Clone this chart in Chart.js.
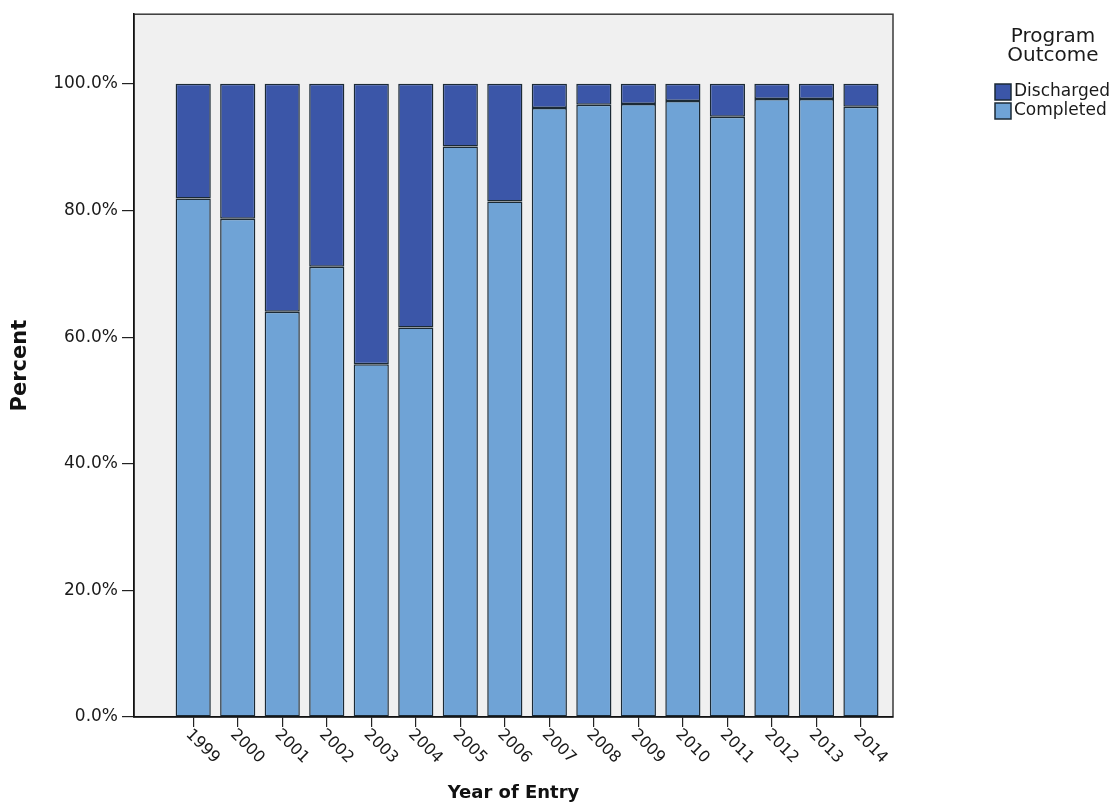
<!DOCTYPE html>
<html lang="en">
<head>
    <meta charset="UTF-8">
    <title>Program Outcome by Year of Entry</title>
    <script src="https://cdn.jsdelivr.net/npm/chart.js"></script>
    <style>
        html, body { margin: 0; padding: 0; background: #fff; }
        #wrap { width: 1119px; height: 808px; }
    </style>
</head>
<body>
    <div id="wrap">
        <canvas id="grafico1"></canvas>
    </div>

    <script>
        const ctx = document.getElementById('grafico1');

        // data
        let anos = [1999,2000,2001,2002,2003,2004,2005,2006,2007,2008,2009,2010,2011,2012,2013,2014]
        let completed  = [81.9,78.7,64.0,71.1,55.7,61.5,90.1,81.4,96.2,96.7,96.8,97.3,94.8,97.6,97.6,96.4]
        let discharged = [18.1,21.3,36.0,28.9,44.3,38.5,9.9,18.6,3.8,3.3,3.2,2.7,5.2,2.4,2.4,3.6]
        let yTicks = [0,20,40,60,80,100]

        const corCompleted = '#6fa3d6'
        const corDischarged = '#3b56a8'
        const corBorda = '#1b2a36'
        const fonte = '"DejaVu Sans", sans-serif'

        // background of plot area + frame
        const fundo = {
          id: 'fundo',
          beforeDraw(chart) {
            const a = chart.chartArea, c = chart.ctx
            c.save()
            c.fillStyle = '#f0f0f0'
            c.fillRect(a.left, a.top, a.right - a.left, a.bottom - a.top)
            c.strokeStyle = '#3a3a3a'
            c.lineWidth = 1.5
            c.strokeRect(a.left, a.top, a.right - a.left, a.bottom - a.top)
            c.restore()
          }
        }

        // rotated year labels + legend
        const extras = {
          id: 'extras',
          afterDraw(chart) {
            const c = chart.ctx, xs = chart.scales.x, a = chart.chartArea
            c.save()
            c.fillStyle = '#1a1a1a'
            c.font = '16px ' + fonte
            c.textAlign = 'left'
            c.textBaseline = 'middle'
            anos.forEach(ano => {
              const px = xs.getPixelForValue(ano)
              c.save()
              c.translate(px - 5, a.bottom + 15)
              c.rotate(Math.PI / 4)
              c.fillText(String(ano), 0, 0)
              c.restore()
            })

            // legend
            c.textAlign = 'center'
            c.font = '20px ' + fonte
            c.fillStyle = '#1a1a1a'
            c.fillText('Program', 1053, 37)
            c.fillText('Outcome', 1053, 56)
            const itens = [['Discharged', corDischarged], ['Completed', corCompleted]]
            c.font = '17px ' + fonte
            c.textAlign = 'left'
            itens.forEach((it, i) => {
              const y = 92 + i * 19
              c.fillStyle = it[1]
              c.fillRect(995, y - 8, 16, 16)
              c.strokeStyle = corBorda
              c.lineWidth = 1.5
              c.strokeRect(995, y - 8, 16, 16)
              c.fillStyle = '#1a1a1a'
              c.fillText(it[0], 1014, y)
            })
            c.restore()
          }
        }

        let grafico1 = new Chart(ctx, {
          type: 'bar',
          data: {
            datasets: [{
              label: 'Completed',
              data: anos.map((a, i) => ({ x: a, y: completed[i] })),
              backgroundColor: corCompleted,
              borderColor: corBorda,
              borderWidth: 1.5,
              borderSkipped: false,
              barPercentage: 0.79,
              categoryPercentage: 1
            }, {
              label: 'Discharged',
              data: anos.map((a, i) => ({ x: a, y: discharged[i] })),
              backgroundColor: corDischarged,
              borderColor: corBorda,
              borderWidth: 1.5,
              borderSkipped: false,
              barPercentage: 0.79,
              categoryPercentage: 1
            }]
          },
          plugins: [fundo, extras],
          options: {
            responsive: true,
            maintainAspectRatio: false,
            animation: false,
            layout: { padding: { left: 0, top: 13, right: 226, bottom: 0 } },
            plugins: {
              legend: { display: false },
              tooltip: { enabled: false }
            },
            scales: {
              x: {
                type: 'linear',
                stacked: true,
                offset: false,
                min: 1997.67,
                max: 2014.72,
                afterBuildTicks: s => { s.ticks = anos.map(v => ({ value: v })) },
                afterFit: s => { s.height = 91 },
                ticks: { display: false },
                grid: { display: true, offset: false, drawOnChartArea: false, tickLength: 10, color: '#222', lineWidth: 1.2 },
                border: { color: '#111', width: 1.5 },
                title: {
                  display: true,
                  text: 'Year of Entry',
                  color: '#111',
                  font: { family: fonte, size: 18, weight: 'bold' },
                  padding: { top: 0, bottom: 4 }
                }
              },
              y: {
                stacked: true,
                min: 0,
                max: 111,
                afterBuildTicks: s => { s.ticks = yTicks.map(v => ({ value: v })) },
                afterFit: s => { s.width = 134 },
                ticks: {
                  color: '#1a1a1a',
                  font: { family: fonte, size: 17 },
                  padding: 4,
                  callback: v => v.toFixed(1) + '%'
                },
                grid: { display: true, drawOnChartArea: false, tickLength: 12, color: '#222', lineWidth: 1.2 },
                border: { color: '#111', width: 1.5 },
                title: {
                  display: true,
                  text: 'Percent',
                  color: '#111',
                  font: { family: fonte, size: 21, weight: 'bold' },
                  padding: { top: 8, bottom: 0 }
                }
              }
            }
          }
        });
      </script>
</body>
</html>
